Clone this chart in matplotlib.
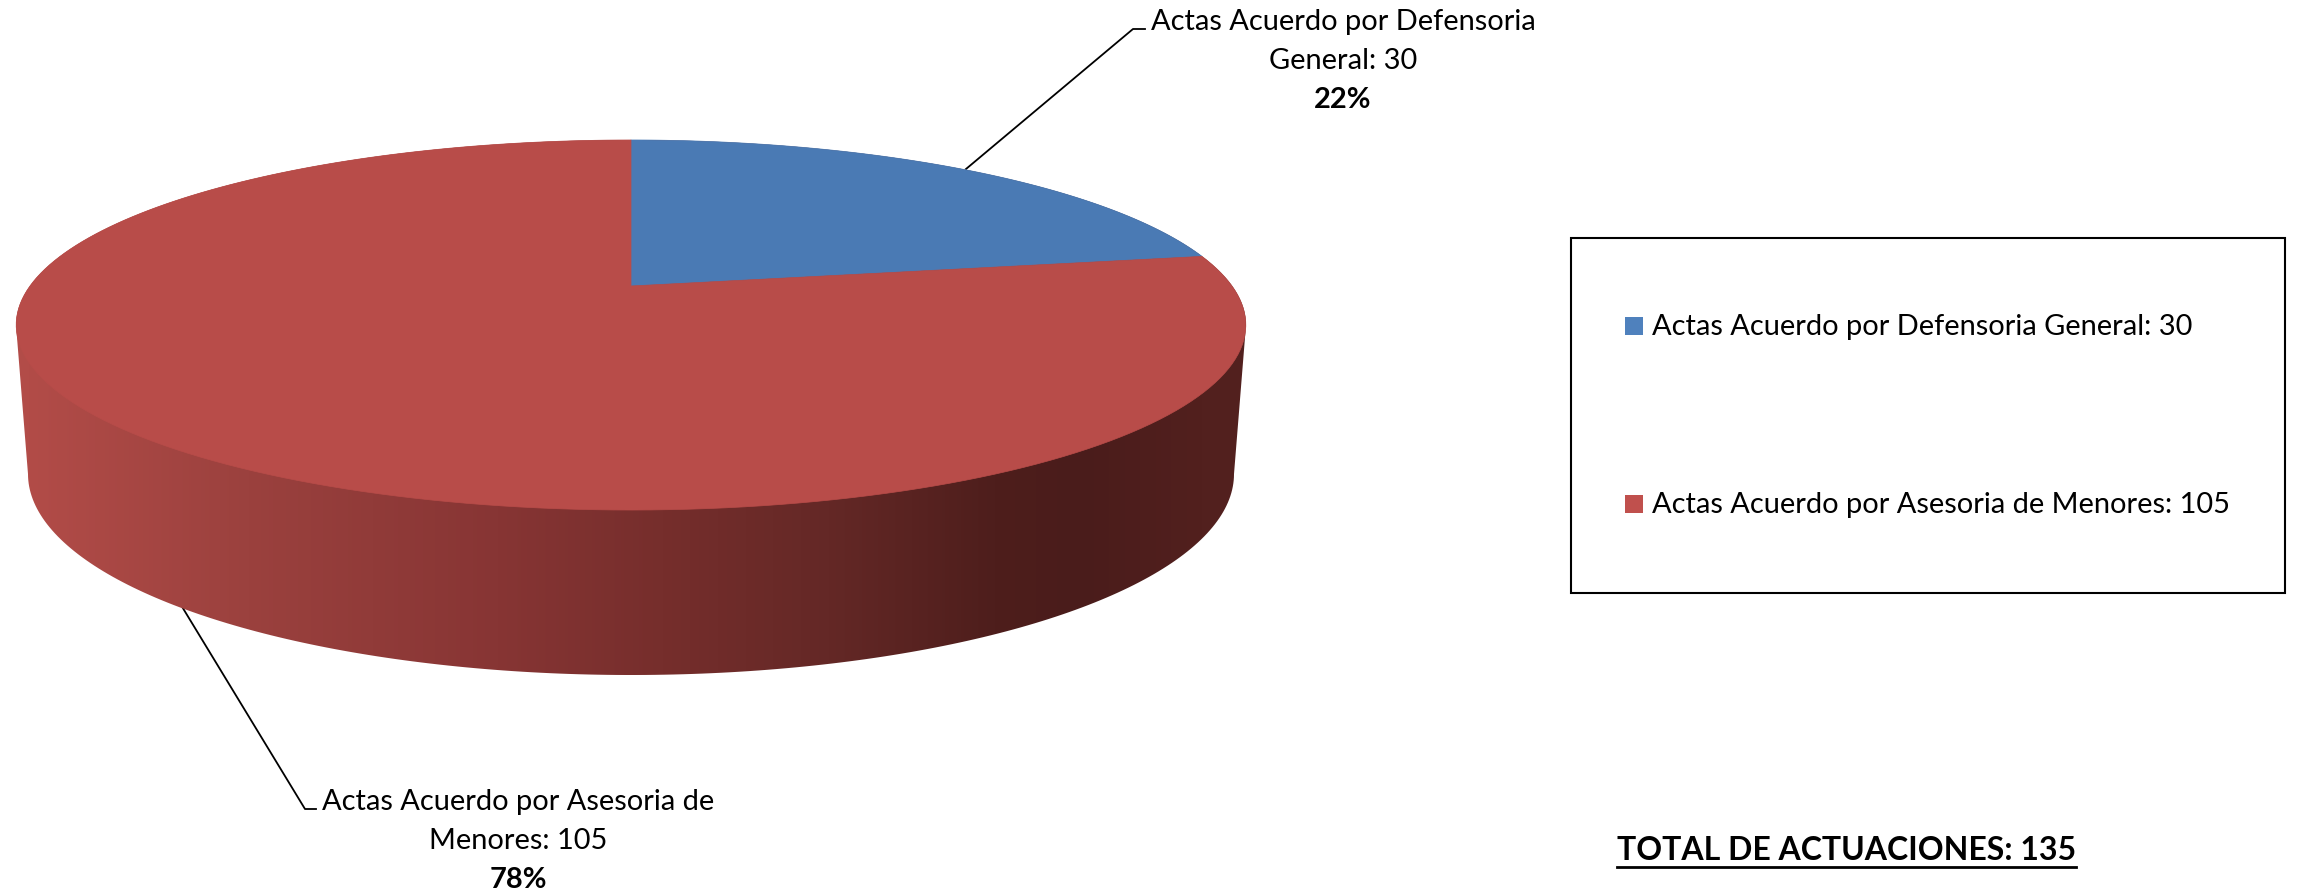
import numpy as np
import matplotlib
matplotlib.use("Agg")
import matplotlib.pyplot as plt
from matplotlib.patches import Polygon, Rectangle

plt.rcParams['font.family'] = ['Lato', 'DejaVu Sans']

# Chart data
categories = ["Actas Acuerdo por Defensoria General", "Actas Acuerdo por Asesoria de Menores"]
values = [30, 105]
wrapped_labels = ["Actas Acuerdo por Defensoria\nGeneral", "Actas Acuerdo por Asesoria de\nMenores"]
total_label = "TOTAL DE ACTUACIONES"

# Slice colours, legend swatches, side shading
pie_colors = ["#4A7AB4", "#B84C49"]
legend_colors = ["#4F81BD", "#C0504D"]
shade_x = [29, 249, 498, 663, 829, 995, 1078, 1202]
shade_rgb = [(178, 76, 72), (155, 65, 62), (135, 53, 52), (118, 46, 44),
             (100, 40, 38), (78, 30, 28), (74, 28, 27), (82, 32, 30)]

# Perspective disc, figure pixels
CX = 631
PERSP = 0.2108
HALF_W = 601
Y_SLOPE = -116.3
Y_APEX = 287


def disc_point(angle):
    """Point of the tilted pie rim, angle in radians clockwise from the top"""
    u, v = np.sin(angle), np.cos(angle)
    w = PERSP * v + 1
    return CX + HALF_W * u / w, (Y_SLOPE * v + Y_APEX) / w


def slice_polygon(start, end):
    angles = np.linspace(start, end, 200)
    xs, ys = disc_point(angles)
    return np.column_stack([np.r_[CX, xs], np.r_[Y_APEX, ys]])


fig = plt.figure(figsize=(23.01, 8.95), dpi=100)
ax = fig.add_axes([0, 0, 1, 1])
ax.set_xlim(0, 2301)
ax.set_ylim(895, 0)
ax.axis("off")

# Leader lines go behind the pie
ax.plot([966, 1133, 1145], [170, 30, 30], color="black", lw=1.3, zorder=1)
ax.plot([181, 305, 316], [606, 810, 810], color="black", lw=1.3, zorder=1)

# Side of the pie: horizontal shading clipped to the outline
t = np.linspace(np.pi, 2 * np.pi, 200)
upper = np.column_stack([CX + 615 * np.cos(t), 326 + 185 * np.sin(t)])
t2 = np.linspace(0, np.pi, 200)
lower = np.column_stack([CX + 603 * np.cos(t2), 475 + 201 * np.sin(t2)])
outline = Polygon(np.vstack([upper, lower]), closed=True, transform=ax.transData,
                  fc="none", ec="none")
ax.add_patch(outline)
px = np.arange(0, 1300)
shade = np.stack([np.interp(px, shade_x, [c[i] for c in shade_rgb]) for i in range(3)], axis=-1)
img = ax.imshow(shade[np.newaxis, :, :].astype(np.uint8), extent=(0, 1300, 700, 100),
                aspect="auto", zorder=2, interpolation="bilinear")
img.set_clip_path(outline)
ax.set_xlim(0, 2301)
ax.set_ylim(895, 0)

# Top of the pie, from the values
fractions = np.array(values) / sum(values)
edges = np.r_[0, np.cumsum(fractions)] * 2 * np.pi
for i in range(len(values)):
    ax.add_patch(Polygon(slice_polygon(edges[i], edges[i + 1]), closed=True,
                         fc=pie_colors[i], ec=pie_colors[i], lw=0.5, zorder=3))

# Slice labels
label_fs = 20.9
label_pos = [(1343, [22, 61, 100]), (518, [802, 841, 880])]
for i, (x, ys) in enumerate(label_pos):
    first, second = wrapped_labels[i].split("\n")
    ax.text(x, ys[0], first, ha="center", va="center", fontsize=label_fs, zorder=4)
    ax.text(x, ys[1], f"{second}: {values[i]}", ha="center", va="center", fontsize=label_fs, zorder=4)
    ax.text(x, ys[2], f"{fractions[i]:.0%}", ha="center", va="center", fontsize=label_fs,
            fontweight="bold", zorder=4)

# Legend box
ax.add_patch(Rectangle((1571, 238.5), 714, 355, fc="white", ec="black", lw=1.5, zorder=1))
for i, y in enumerate([327, 505]):
    ax.add_patch(Rectangle((1625, y - 9), 18, 18, fc=legend_colors[i], ec="none", zorder=3))
    ax.text(1652, y, f"{categories[i]}: {values[i]}", ha="left", va="center",
            fontsize=label_fs, zorder=4)

# Total, underlined
total = ax.text(1617, 851, f"{total_label}: {sum(values)}", ha="left", va="center",
                fontsize=23, fontweight="bold", zorder=4)
fig.canvas.draw()
box = total.get_window_extent()
ax.plot([box.x0, box.x1], [868, 868], color="black", lw=2, zorder=4)

fig.savefig("out.png", dpi=100)
